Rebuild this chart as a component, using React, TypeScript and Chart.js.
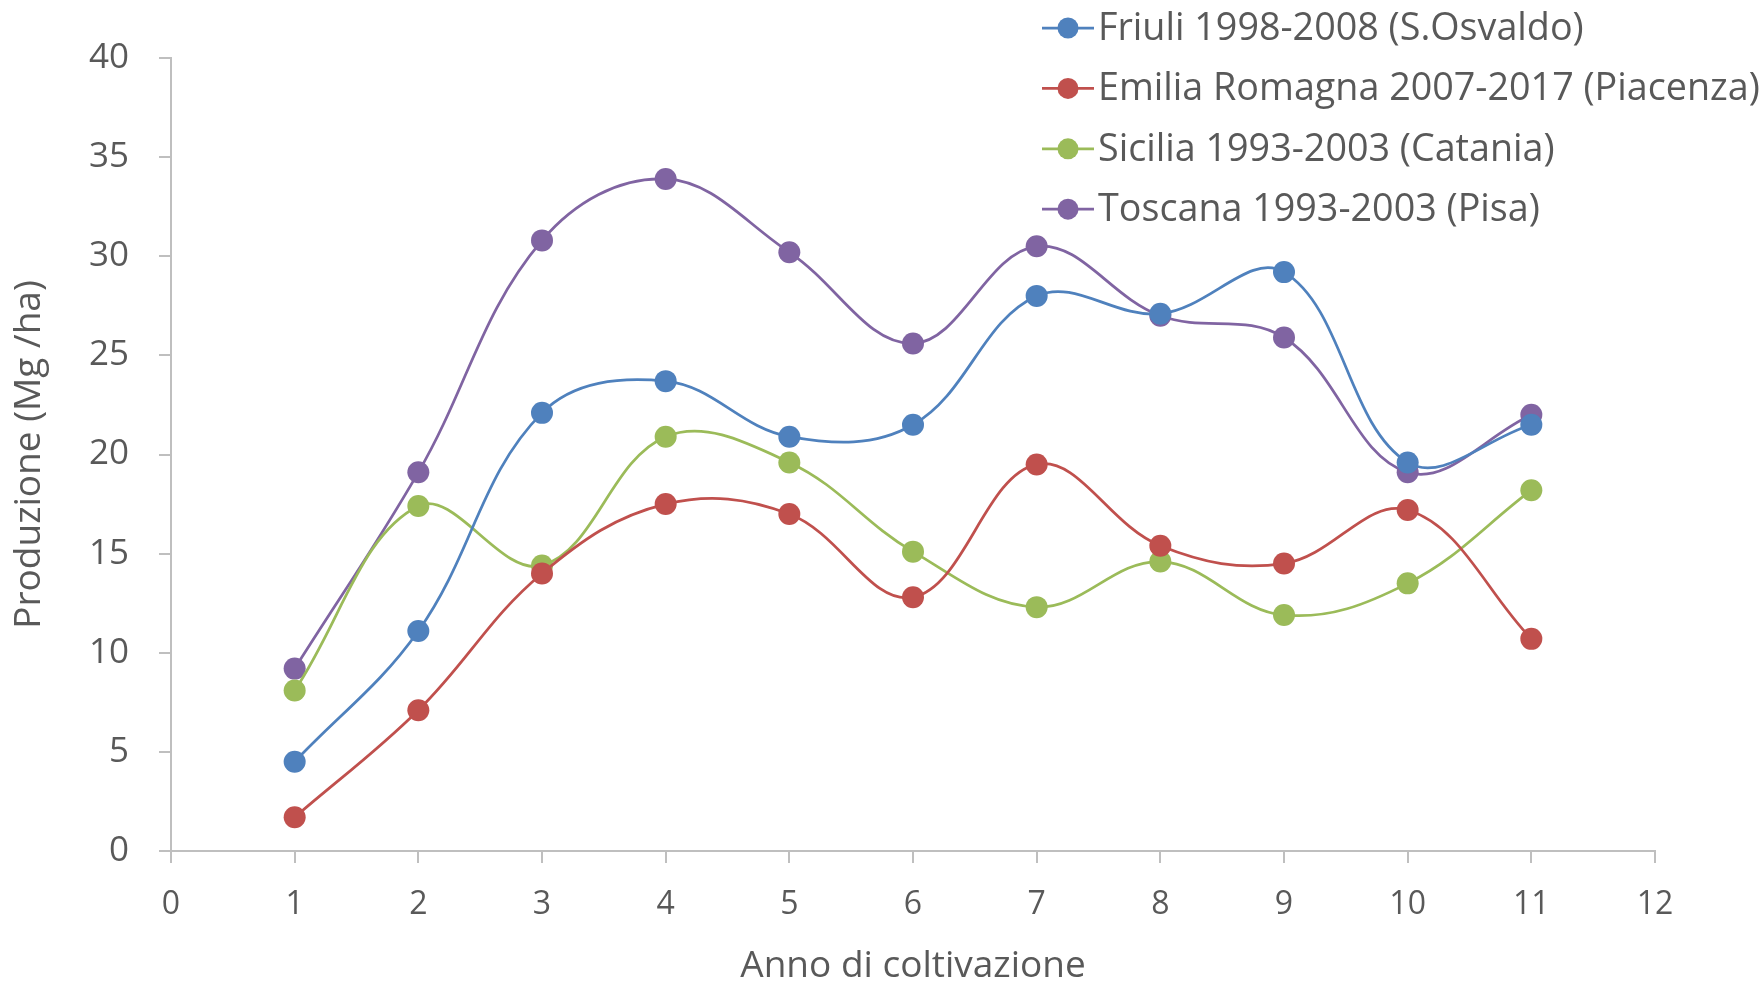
import React, { useEffect, useRef } from "react";
import { Chart, registerables } from "chart.js";

Chart.register(...registerables);

const years = [1, 2, 3, 4, 5, 6, 7, 8, 9, 10, 11];
const friuli = [4.5, 11.1, 22.1, 23.7, 20.9, 21.5, 28.0, 27.1, 29.2, 19.6, 21.5];
const emilia = [1.7, 7.1, 14.0, 17.5, 17.0, 12.8, 19.5, 15.4, 14.5, 17.2, 10.7];
const sicilia = [8.1, 17.4, 14.4, 20.9, 19.6, 15.1, 12.3, 14.6, 11.9, 13.5, 18.2];
const toscana = [9.2, 19.1, 30.8, 33.9, 30.2, 25.6, 30.5, 27.0, 25.9, 19.1, 22.0];

const seriesLabels = [
  "Friuli 1998-2008 (S.Osvaldo)",
  "Emilia Romagna 2007-2017 (Piacenza)",
  "Sicilia 1993-2003 (Catania)",
  "Toscana 1993-2003 (Pisa)",
];
const seriesColors = ["#4F81BD", "#C0504D", "#9BBB59", "#8064A2"];
const seriesValues = [friuli, emilia, sicilia, toscana];

const xTitle = "Anno di coltivazione";
const yTitle = "Produzione (Mg /ha)";

const FONT = "'Open Sans', sans-serif";
const TEXT = "#595959";
const AXIS = "#BFBFBF";

const legendPlugin = {
  id: "sideLegend",
  afterDatasetsDraw(chart: any) {
    const ctx = chart.ctx;
    ctx.save();
    chart.data.datasets.forEach((ds: any, i: number) => {
      const y = 28 + i * 60.4;
      ctx.strokeStyle = ds.borderColor;
      ctx.lineWidth = 2.75;
      ctx.beginPath();
      ctx.moveTo(1042, y);
      ctx.lineTo(1094, y);
      ctx.stroke();
      ctx.fillStyle = ds.backgroundColor;
      ctx.beginPath();
      ctx.arc(1068, y, 10.5, 0, Math.PI * 2);
      ctx.fill();
      ctx.fillStyle = TEXT;
      ctx.font = `37.7px ${FONT}`;
      ctx.textAlign = "left";
      ctx.textBaseline = "middle";
      ctx.fillText(ds.label, 1098, y + 1);
    });
    ctx.restore();
  },
};

export default function App() {
  const ref = useRef<HTMLCanvasElement>(null);
  useEffect(() => {
    if (!ref.current) return;
    const chart = new Chart(ref.current, {
      type: "line",
      data: {
        datasets: seriesValues.map((vals, i) => ({
          label: seriesLabels[i],
          data: years.map((x, j) => ({ x, y: vals[j] })),
          borderColor: seriesColors[i],
          backgroundColor: seriesColors[i],
          pointBackgroundColor: seriesColors[i],
          pointBorderColor: seriesColors[i],
          pointRadius: 11,
          pointBorderWidth: 0,
          borderWidth: 2.75,
          tension: 0.38,
          fill: false,
        })),
      },
      options: {
        animation: false,
        responsive: false,
        layout: { padding: { left: 0, top: 58, right: 108, bottom: 0 } },
        plugins: {
          legend: { display: false },
          tooltip: { enabled: false },
        },
        scales: {
          x: {
            type: "linear",
            min: 0,
            max: 12,
            afterFit: (s: any) => {
              s.height = 131;
            },
            ticks: {
              stepSize: 1,
              color: TEXT,
              font: { family: FONT, size: 32, lineHeight: 1.2 },
              padding: 23,
              maxRotation: 0,
            },
            grid: {
              drawOnChartArea: false,
              drawTicks: true,
              tickLength: 12,
              color: AXIS,
              lineWidth: 2,
            },
            border: { display: true, color: AXIS, width: 2 },
            title: {
              display: true,
              text: xTitle,
              color: TEXT,
              font: { family: FONT, size: 37, lineHeight: 1 },
              padding: { top: 0, bottom: -3 },
            },
          },
          y: {
            type: "linear",
            min: 0,
            max: 40,
            afterFit: (s: any) => {
              s.width = 171;
            },
            ticks: {
              stepSize: 5,
              color: TEXT,
              font: { family: FONT, size: 35, lineHeight: 1.2 },
              padding: 30,
            },
            grid: {
              drawOnChartArea: false,
              drawTicks: true,
              tickLength: 12,
              color: AXIS,
              lineWidth: 2,
            },
            border: { display: true, color: AXIS, width: 2 },
            title: {
              display: true,
              text: yTitle,
              color: TEXT,
              font: { family: FONT, size: 37, lineHeight: 1 },
              padding: { top: 11, bottom: 0 },
            },
          },
        },
      },
      plugins: [legendPlugin],
    });
    return () => chart.destroy();
  }, []);
  return (
    <div style={{ position: "absolute", left: 0, top: 0, width: 1763, height: 982, background: "#fff" }}>
      <canvas ref={ref} width={1763} height={982} style={{ width: 1763, height: 982, display: "block" }} />
    </div>
  );
}
